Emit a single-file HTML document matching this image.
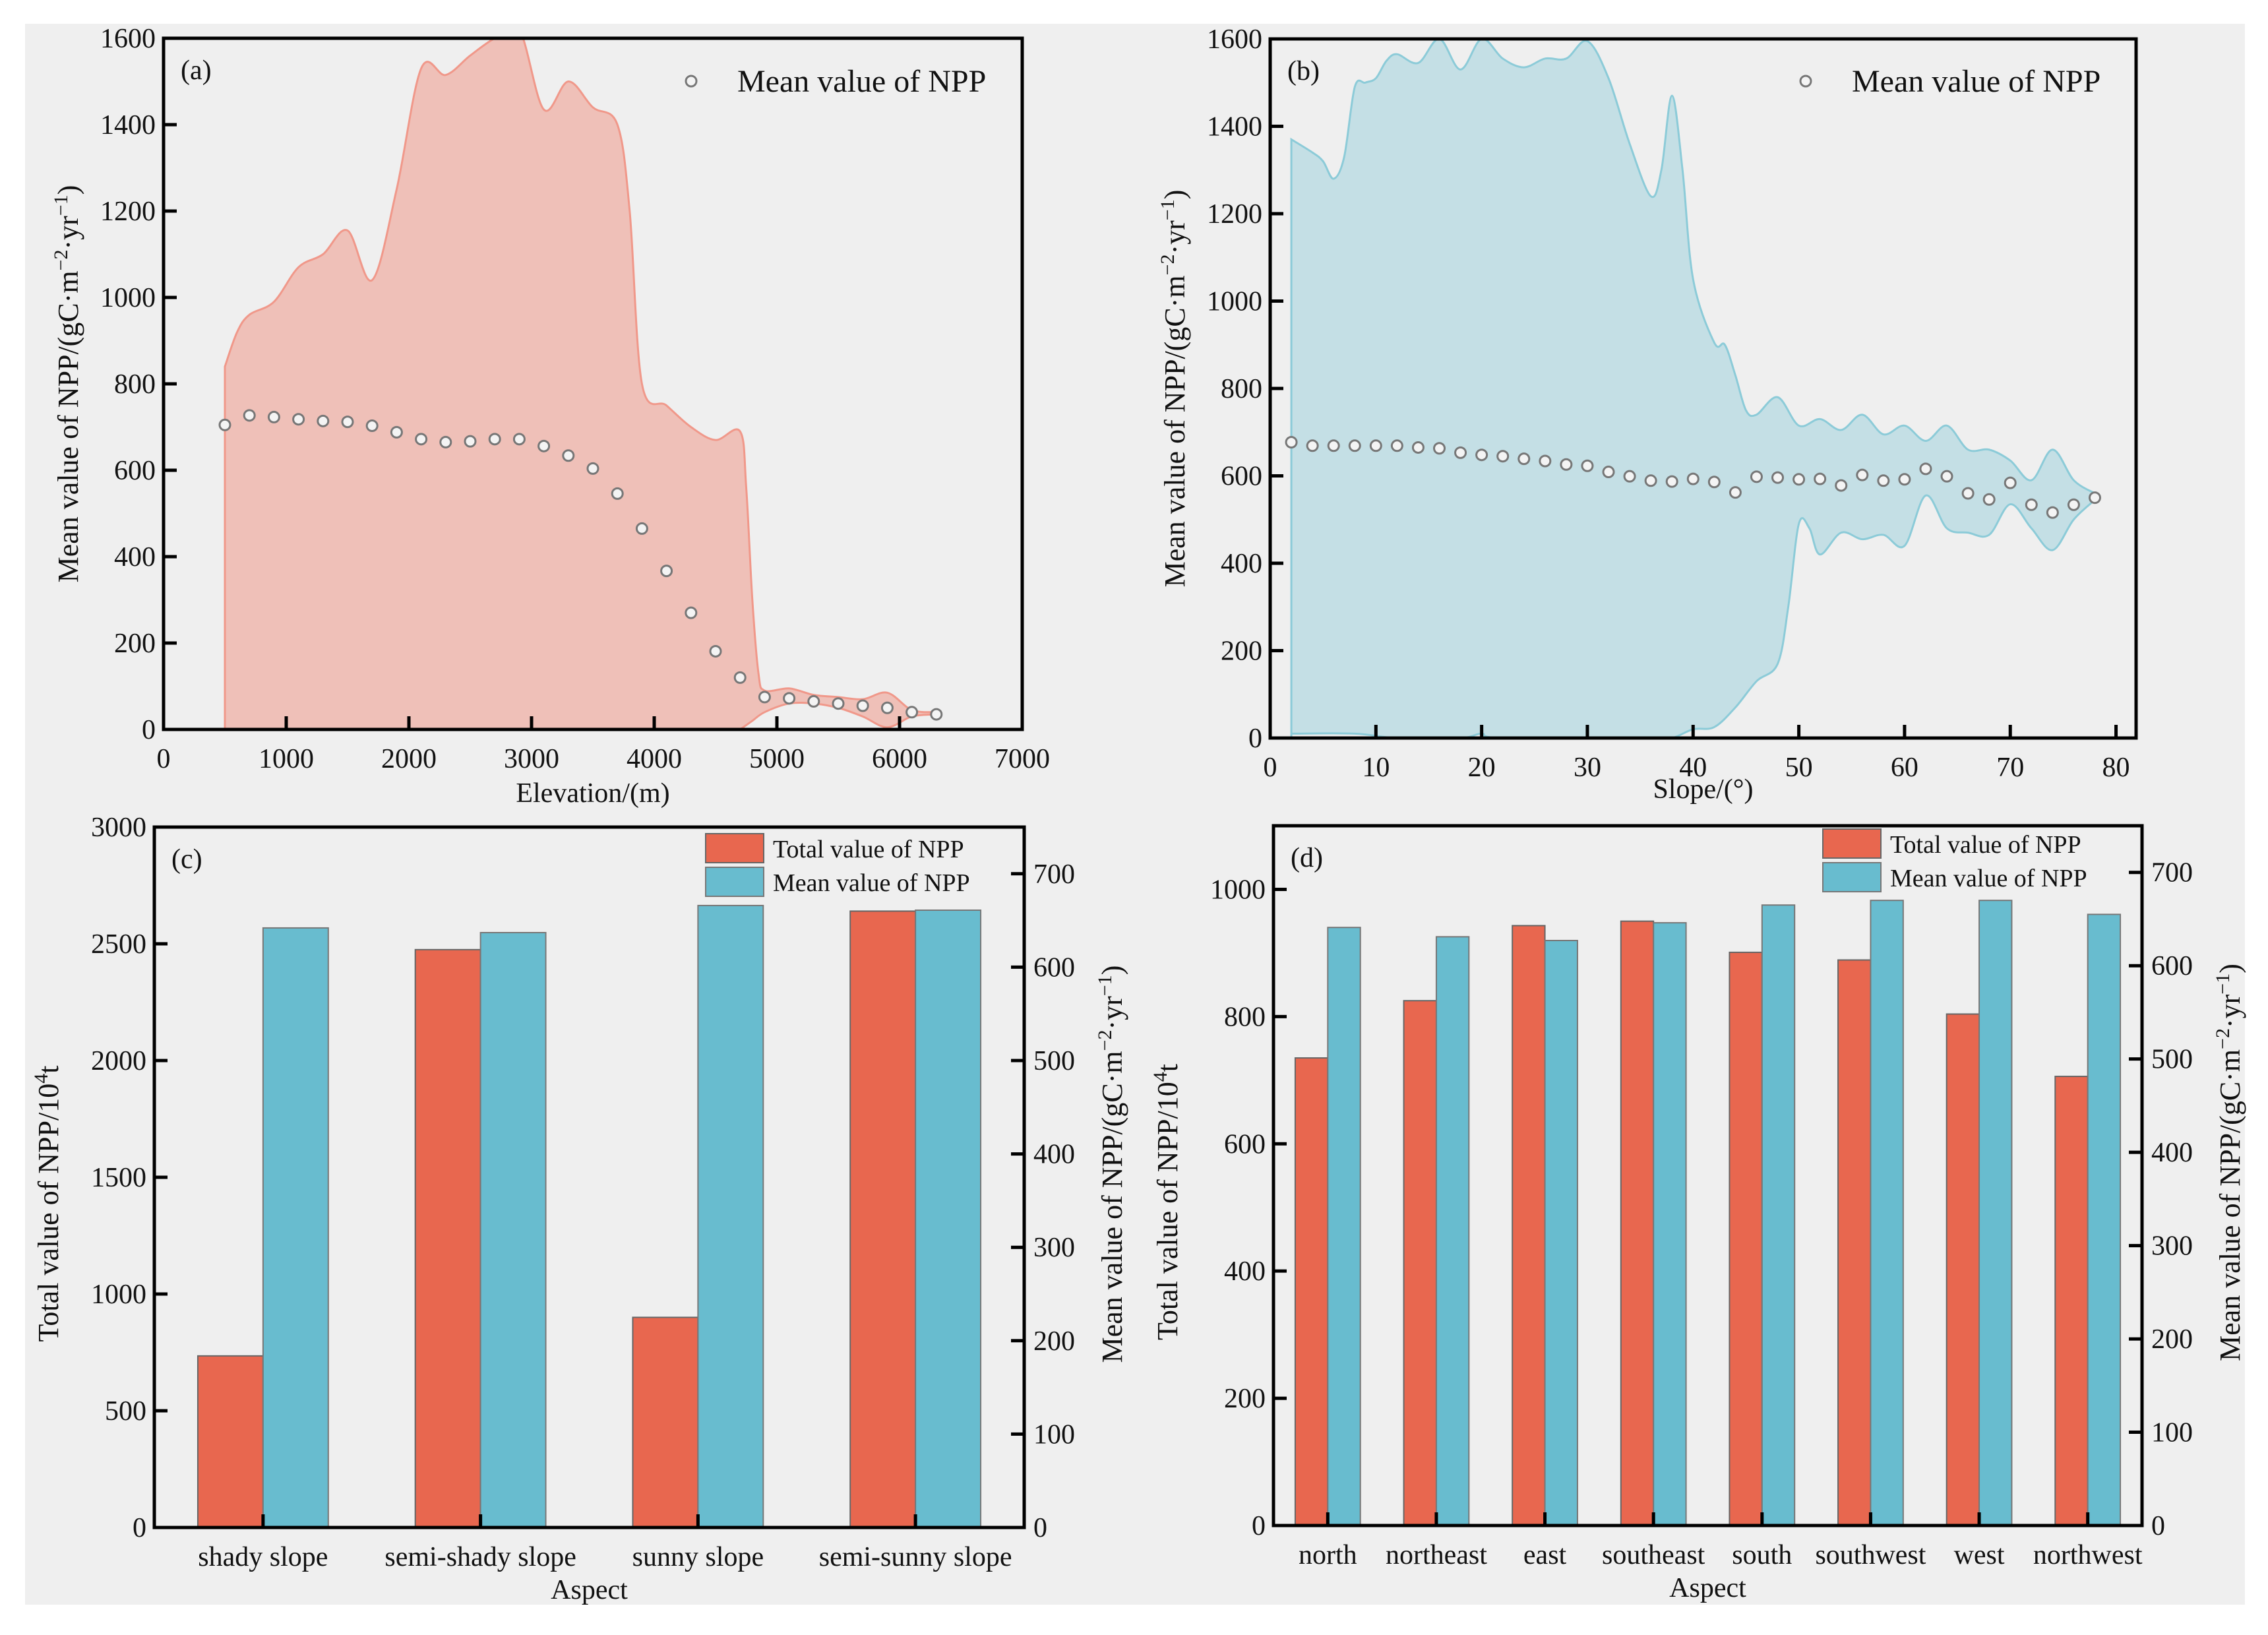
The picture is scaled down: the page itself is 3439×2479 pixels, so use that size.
<!DOCTYPE html>
<html><head><meta charset="utf-8">
<style>
html,body{margin:0;padding:0;background:#fff;}
svg{display:block;}
text{font-family:"Liberation Serif",serif;fill:#111;}
</style></head>
<body>
<svg id="fig" width="3439" height="2479" viewBox="0 0 3439 2479" xmlns="http://www.w3.org/2000/svg">
<rect x="38" y="36" width="3366" height="2397" fill="#efefef"/>
<g id="root"></g>
</svg>
<script>
// Panel (a) elevation data
const elevX = [500,700,900,1100,1300,1500,1700,1900,2100,2300,2500,2700,2900,3100,3300,3500,3700,3900,4100,4300,4500,4700,4900,5100,5300,5500,5700,5900,6100,6300];
const elevMean = [705,727,723,718,714,712,703,688,672,665,667,672,672,656,634,604,546,465,367,270,181,120,75,72,65,60,55,50,40,35];
const elevUpX = [500,600,700,900,1100,1300,1500,1700,1900,2100,2300,2500,2700,2900,3100,3300,3500,3700,3800,3900,4100,4300,4500,4700,4750,4800,4850,4900,5100,5300,5500,5700,5900,6100,6300];
const elevUp = [840,920,960,990,1070,1100,1155,1040,1250,1530,1515,1560,1600,1620,1435,1500,1440,1400,1200,800,750,700,670,690,560,300,130,90,95,80,75,70,85,45,40];
const elevLoX = [4700,4800,4900,5100,5300,5500,5700,5900,6100,6300];
const elevLo = [0,20,40,60,60,50,30,5,30,35];
const elevTicksX = [0,1000,2000,3000,4000,5000,6000,7000];
const elevTicksY = [0,200,400,600,800,1000,1200,1400,1600];
// Panel (b) slope data
const slopeX = [2,4,6,8,10,12,14,16,18,20,22,24,26,28,30,32,34,36,38,40,42,44,46,48,50,52,54,56,58,60,62,64,66,68,70,72,74,76,78];
const slopeMean = [677,669,669,669,669,669,665,663,653,648,645,639,634,626,623,609,599,589,587,593,586,562,598,596,592,593,578,602,589,592,616,599,560,546,584,534,516,534,550];
const slopeUpX = [2,4,5,6,7,8,9,10,11,12,14,16,18,20,22,24,26,28,30,32,34,36,37,38,39,40,42,43,44,45,46,48,50,52,54,56,58,60,62,64,66,68,70,72,74,76,78];
const slopeUp = [1370,1340,1320,1280,1330,1490,1500,1510,1550,1565,1545,1600,1530,1600,1555,1535,1555,1555,1595,1510,1360,1240,1300,1470,1300,1050,905,900,830,750,740,780,715,730,705,740,695,715,680,715,660,660,635,590,660,590,560];
const slopeLoX = [2,8,12,18,20,22,36,38,40,42,44,46,48,49,50,51,52,54,56,58,60,62,64,66,68,70,72,74,76,78];
const slopeLo = [10,10,0,0,10,0,0,0,20,25,70,130,170,300,490,480,420,470,455,465,440,555,480,470,465,535,480,430,500,545];
const slopeTicksX = [0,10,20,30,40,50,60,70,80];
const slopeTicksY = [0,200,400,600,800,1000,1200,1400,1600];
// Panel (c) aspect (4 classes)
const aspect4 = ["shady slope","semi-shady slope","sunny slope","semi-sunny slope"];
const total4 = [735,2475,900,2640];
const mean4 = [642,637,666,661];
const ticksC = [0,500,1000,1500,2000,2500,3000];
const ticksCR = [0,100,200,300,400,500,600,700];
// Panel (d) aspect (8 directions)
const aspect8 = ["north","northeast","east","southeast","south","southwest","west","northwest"];
const total8 = [735,825,943,950,901,889,804,706];
const mean8 = [641,631,627,646,665,670,670,655];
const ticksD = [0,200,400,600,800,1000];
const ticksDR = [0,100,200,300,400,500,600,700];

const NS="http://www.w3.org/2000/svg";
const root=document.getElementById('root');
function mk(tag,attrs,parent,txt){const e=document.createElementNS(NS,tag);for(const k in attrs)e.setAttribute(k,attrs[k]);if(txt!==undefined)e.textContent=txt;(parent||root).appendChild(e);return e;}
function lin(d0,d1,r0,r1){return v=>r0+(v-d0)/(d1-d0)*(r1-r0);}
function smooth(pts){let d="M"+pts[0][0]+","+pts[0][1];for(let i=0;i<pts.length-1;i++){const p0=pts[Math.max(0,i-1)],p1=pts[i],p2=pts[i+1],p3=pts[Math.min(pts.length-1,i+2)];const c1=[p1[0]+(p2[0]-p0[0])/6,p1[1]+(p2[1]-p0[1])/6],c2=[p2[0]-(p3[0]-p1[0])/6,p2[1]-(p3[1]-p1[1])/6];d+=" C"+c1[0]+","+c1[1]+" "+c2[0]+","+c2[1]+" "+p2[0]+","+p2[1];}return d;}
function frame(g,L,T,R,B){const r=mk('rect',{x:L,y:T,width:R-L,height:B-T,fill:'none',stroke:'#000','stroke-width':5},g);}
function yTicks(g,vals,sy,x,dir,anchor,lx,name){vals.forEach(v=>{const y=sy(v);const t=mk('line',{x1:x,y1:y,x2:x+dir*20,y2:y,stroke:'#000','stroke-width':5},g);const l=mk('text',{x:lx,y:y+14,'font-size':42,'text-anchor':anchor},g,String(v));});}
function xTicks(g,vals,sx,B,name){vals.forEach(v=>{const x=sx(v);const t=mk('line',{x1:x,y1:B,x2:x,y2:B-20,stroke:'#000','stroke-width':5},g);const l=mk('text',{x:x,y:B+58,'font-size':42,'text-anchor':'middle'},g,String(v));});}
function ytitle(g,x,y,txt,name){const t=mk('text',{x:0,y:0,'font-size':44,'text-anchor':'middle',transform:`translate(${x},${y}) rotate(-90)`},g);t.innerHTML=txt;}
const meanTitle='Mean value of NPP/(gC·m<tspan dy="-16" font-size="30">−2</tspan><tspan dy="16">·yr</tspan><tspan dy="-16" font-size="30">−1</tspan><tspan dy="16">)</tspan>';

function areaPanel(id,L,T,R,B,xmax,upX,up,loX,lo,mX,mean,tx,ty,fill,stroke,label,xtitle,legX,xtY){
  const g=mk('g',{});
  const sx=lin(0,xmax,L,R),sy=lin(0,1600,B,T);
  const cp=mk('clipPath',{id:id+'-clip'},g);mk('rect',{x:L,y:T,width:R-L,height:B-T},cp);
  const upPts=upX.map((x,i)=>[sx(x),sy(up[i])]);
  const loPts=loX.map((x,i)=>[sx(x),sy(lo[i])]).reverse();
  let d=smooth(upPts);d+=" L"+loPts[0][0]+","+loPts[0][1]+smooth(loPts).replace(/^M[^ ]+/,"");
  d+=" L"+sx(upX[0])+","+sy(0)+" Z";
  const a=mk('path',{d:d,fill:fill,stroke:stroke,'stroke-width':3,'clip-path':`url(#${id}-clip)`},g);
  
  mX.forEach((x,i)=>{const c=mk('circle',{cx:sx(x),cy:sy(mean[i]),r:8,fill:'#f4f4f4',stroke:'#777','stroke-width':3},g);});
  frame(g,L,T,R,B);
  yTicks(g,ty,sy,L,1,'end',L-12,'y-axis');
  xTicks(g,tx,sx,B,'x-axis');
  const pl=mk('text',{x:L+26,y:T+62,'font-size':42},g,label);
  const lc=mk('circle',{cx:legX,cy:123,r:8,fill:'#f4f4f4',stroke:'#777','stroke-width':3},g);
  const lt=mk('text',{x:legX+70,y:139,'font-size':48},g,'Mean value of NPP');
  const xt=mk('text',{x:(L+R)/2,y:xtY,'font-size':42,'text-anchor':'middle'},g,xtitle);
  ytitle(g,L-130,(T+B)/2,meanTitle,'y-axis-title');
}
areaPanel('panel-a-elevation',248,58,1550,1106,7000,elevUpX,elevUp,elevLoX,elevLo,elevX,elevMean,elevTicksX,elevTicksY,'#efc0b8','#f0988a','(a)','Elevation/(m)',1048,1216);
areaPanel('panel-b-slope',1926,59,3239,1119,81.9,slopeUpX,slopeUp,slopeLoX,slopeLo,slopeX,slopeMean,slopeTicksX,slopeTicksY,'#c4dfe5','#8ccbd8','(b)','Slope/(°)',2738,1210);

function barPanel(id,L,T,R,B,lmax,lt,cats,tot,mean,label,legX,legY){
  const g=mk('g',{});
  const sy=lin(0,lmax,B,T),syr=lin(0,750,B,T);
  const band=(R-L)/cats.length,bw=band*0.3;
  cats.forEach((c,i)=>{const cx=L+band*(i+0.5);
    const r1=mk('rect',{x:cx-bw,y:sy(tot[i]),width:bw,height:B-sy(tot[i]),fill:'#e8674f',stroke:'#666','stroke-width':2},g);
    const r2=mk('rect',{x:cx,y:syr(mean[i]),width:bw,height:B-syr(mean[i]),fill:'#68bccf',stroke:'#777','stroke-width':2},g);
    const tk=mk('line',{x1:cx,y1:B,x2:cx,y2:B-20,stroke:'#000','stroke-width':5},g);
    const tl=mk('text',{x:cx,y:B+58,'font-size':42,'text-anchor':'middle'},g,c);
  });
  frame(g,L,T,R,B);
  yTicks(g,lt,sy,L,1,'end',L-12,'left-y-axis');
  yTicks(g,ticksCR,syr,R,-1,'start',R+14,'right-y-axis');
  const pl=mk('text',{x:L+26,y:T+62,'font-size':42},g,label);
  const s1=mk('rect',{x:legX,y:legY,width:88,height:44,fill:'#e8674f',stroke:'#666','stroke-width':2},g);
  const t1=mk('text',{x:legX+102,y:legY+36,'font-size':38},g,'Total value of NPP');
  const s2=mk('rect',{x:legX,y:legY+51,width:88,height:44,fill:'#68bccf',stroke:'#777','stroke-width':2},g);
  const t2=mk('text',{x:legX+102,y:legY+87,'font-size':38},g,'Mean value of NPP');
  const xt=mk('text',{x:(L+R)/2,y:B+108,'font-size':42,'text-anchor':'middle'},g,'Aspect');
  ytitle(g,L-146,(T+B)/2+40,'Total value of NPP/10<tspan dy="-16" font-size="30">4</tspan><tspan dy="16">t</tspan>','left-y-axis-title');
  ytitle(g,R+148,(T+B)/2-20,meanTitle,'right-y-axis-title');
}
barPanel('panel-c-aspect4',234,1254,1553,2316,3000,ticksC,aspect4,total4,mean4,'(c)',1070,1264);
barPanel('panel-d-aspect8',1931,1252,3248,2313,1100,ticksD,aspect8,total8,mean8,'(d)',2764,1257);
</script>
</body></html>
